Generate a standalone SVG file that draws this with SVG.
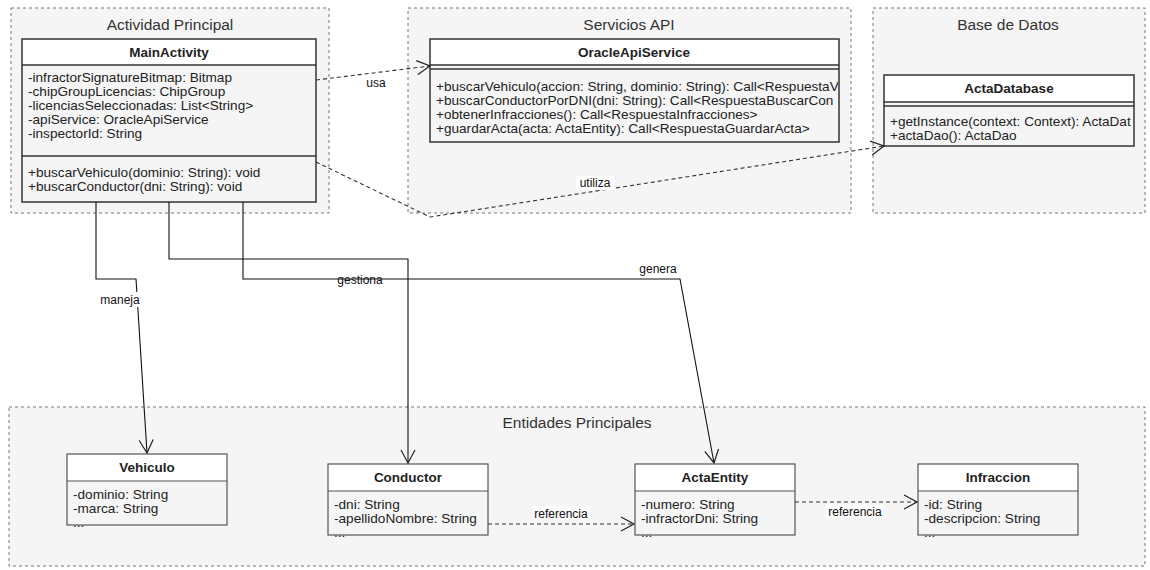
<svg xmlns="http://www.w3.org/2000/svg" width="1150" height="570" viewBox="0 0 1150 570">
<style>
.cluster{fill:#f5f5f5;stroke:#777;stroke-width:1;stroke-dasharray:3,3}
.ctitle{font-family:"Liberation Sans",Arial,sans-serif;font-size:15.5px;fill:#333;text-anchor:middle}
.box{fill:none;stroke:#333;stroke-width:1.5}
.box2{fill:none;stroke:#555;stroke-width:1.2}
.hdr{fill:#fff}
.name{font-family:"Liberation Sans",Arial,sans-serif;font-size:13.5px;font-weight:bold;fill:#222;text-anchor:middle}
.mem{font-family:"Liberation Sans",Arial,sans-serif;font-size:13.6px;fill:#222}
.lbl{font-family:"Liberation Sans",Arial,sans-serif;font-size:12px;fill:#111;text-anchor:middle}
.solid{fill:none;stroke:#111;stroke-width:1.1}
.dash{fill:none;stroke:#333;stroke-width:1.1;stroke-dasharray:4,3}
.lblbg{fill:#fff}
</style>
<defs>
<marker id="open" markerUnits="userSpaceOnUse" markerWidth="16" markerHeight="16" viewBox="0 0 14 16" refX="13" refY="8" orient="auto">
<path d="M0,1 L13,8 L0,15" fill="none" stroke="#222" stroke-width="1.2"/>
</marker>
<clipPath id="clipOracle"><rect x="431" y="40" width="407" height="101"/></clipPath>
<clipPath id="clipDb"><rect x="885" y="76" width="248" height="69"/></clipPath>
</defs>

<g id="cluster-actividad">
<rect class="cluster" x="11" y="8" width="318" height="205"/>
<text class="ctitle" x="170" y="29.5">Actividad Principal</text>
</g>
<g id="cluster-servicios">
<rect class="cluster" x="408" y="8" width="443" height="205"/>
<text class="ctitle" x="629" y="29.5">Servicios API</text>
</g>
<g id="cluster-bd">
<rect class="cluster" x="873" y="8" width="272" height="205"/>
<text class="ctitle" x="1008" y="29.5">Base de Datos</text>
</g>
<g id="cluster-entidades">
<rect class="cluster" x="9" y="407" width="1136" height="159"/>
<text class="ctitle" x="577" y="427.5">Entidades Principales</text>
</g>

<g id="MainActivity">
<rect class="hdr" x="22" y="39" width="294" height="26"/>
<rect class="box" x="22" y="39" width="294" height="163"/>
<line class="box" x1="22" y1="65" x2="316" y2="65"/>
<line class="box" x1="22" y1="156" x2="316" y2="156"/>
<text class="name" x="169" y="57">MainActivity</text>
<text class="mem" x="28" y="82">-infractorSignatureBitmap: Bitmap</text>
<text class="mem" x="28" y="96">-chipGroupLicencias: ChipGroup</text>
<text class="mem" x="28" y="110">-licenciasSeleccionadas: List&lt;String&gt;</text>
<text class="mem" x="28" y="124">-apiService: OracleApiService</text>
<text class="mem" x="28" y="138">-inspectorId: String</text>
<text class="mem" x="28" y="177">+buscarVehiculo(dominio: String): void</text>
<text class="mem" x="28" y="191">+buscarConductor(dni: String): void</text>
</g>

<g id="OracleApiService">
<rect class="hdr" x="430" y="39" width="409" height="26"/>
<rect class="box" x="430" y="39" width="409" height="103"/>
<line class="box" x1="430" y1="65" x2="839" y2="65"/>
<line class="box" x1="430" y1="69" x2="839" y2="69"/>
<text class="name" x="634" y="57">OracleApiService</text>
<g clip-path="url(#clipOracle)">
<text class="mem" x="436" y="91">+buscarVehiculo(accion: String, dominio: String): Call&lt;RespuestaV</text>
<text class="mem" x="436" y="105">+buscarConductorPorDNI(dni: String): Call&lt;RespuestaBuscarCon</text>
<text class="mem" x="436" y="119">+obtenerInfracciones(): Call&lt;RespuestaInfracciones&gt;</text>
<text class="mem" x="436" y="133">+guardarActa(acta: ActaEntity): Call&lt;RespuestaGuardarActa&gt;</text>
</g>
</g>

<g id="ActaDatabase">
<rect class="hdr" x="884" y="75" width="250" height="27"/>
<rect class="box" x="884" y="75" width="250" height="71"/>
<line class="box" x1="884" y1="102" x2="1134" y2="102"/>
<line class="box" x1="884" y1="106" x2="1134" y2="106"/>
<text class="name" x="1009" y="93">ActaDatabase</text>
<g clip-path="url(#clipDb)">
<text class="mem" x="890" y="126">+getInstance(context: Context): ActaDat</text>
<text class="mem" x="890" y="140">+actaDao(): ActaDao</text>
</g>
</g>

<g id="Vehiculo">
<rect class="hdr" x="67" y="454" width="160" height="27"/>
<rect class="box2" x="67" y="454" width="160" height="71"/>
<line class="box2" x1="67" y1="481" x2="227" y2="481"/>
<text class="name" x="147" y="472">Vehiculo</text>
<text class="mem" x="73" y="498.5">-dominio: String</text>
<text class="mem" x="73" y="512.5">-marca: String</text>
<text class="mem" x="73" y="526.5">...</text>
</g>

<g id="Conductor">
<rect class="hdr" x="328" y="464" width="160" height="27"/>
<rect class="box2" x="328" y="464" width="160" height="71"/>
<line class="box2" x1="328" y1="491" x2="488" y2="491"/>
<text class="name" x="408" y="482">Conductor</text>
<text class="mem" x="334" y="508.5">-dni: String</text>
<text class="mem" x="334" y="522.5">-apellidoNombre: String</text>
<text class="mem" x="334" y="536.5">...</text>
</g>

<g id="ActaEntity">
<rect class="hdr" x="635" y="464" width="160" height="27"/>
<rect class="box2" x="635" y="464" width="160" height="71"/>
<line class="box2" x1="635" y1="491" x2="795" y2="491"/>
<text class="name" x="715" y="482">ActaEntity</text>
<text class="mem" x="641" y="508.5">-numero: String</text>
<text class="mem" x="641" y="522.5">-infractorDni: String</text>
<text class="mem" x="641" y="536.5">...</text>
</g>

<g id="Infraccion">
<rect class="hdr" x="918" y="464" width="160" height="27"/>
<rect class="box2" x="918" y="464" width="160" height="71"/>
<line class="box2" x1="918" y1="491" x2="1078" y2="491"/>
<text class="name" x="998" y="482">Infraccion</text>
<text class="mem" x="924" y="508.5">-id: String</text>
<text class="mem" x="924" y="522.5">-descripcion: String</text>
<text class="mem" x="924" y="536.5">...</text>
</g>

<g id="connectors">
<path class="dash" d="M316,80 L430,66" marker-end="url(#open)"/>
<text class="lbl" x="376" y="87">usa</text>
<path class="dash" d="M316,162 L430,217 L884,146" marker-end="url(#open)"/>
<rect class="lblbg" x="576" y="176" width="38" height="14"/>
<text class="lbl" x="595" y="187">utiliza</text>
<path class="solid" d="M96,202 L96,279 L136,279 L147,453" marker-end="url(#open)"/>
<rect class="lblbg" x="100" y="292" width="40" height="15"/>
<text class="lbl" x="120" y="304">maneja</text>
<path class="solid" d="M169,202 L169,259 L408,259 L408,463" marker-end="url(#open)"/>
<text class="lbl" x="360" y="284">gestiona</text>
<path class="solid" d="M243,202 L243,279 L680,279 L714,463" marker-end="url(#open)"/>
<text class="lbl" x="658" y="273">genera</text>
<path class="dash" d="M488,524 L634,524" marker-end="url(#open)"/>
<rect class="lblbg" x="532" y="506" width="58" height="14" fill-opacity="0.6"/>
<text class="lbl" x="561" y="518">referencia</text>
<path class="dash" d="M795,502 L917,502" marker-end="url(#open)"/>
<rect class="lblbg" x="826" y="504" width="58" height="14" fill-opacity="0.6"/>
<text class="lbl" x="855" y="516">referencia</text>
</g>
</svg>
